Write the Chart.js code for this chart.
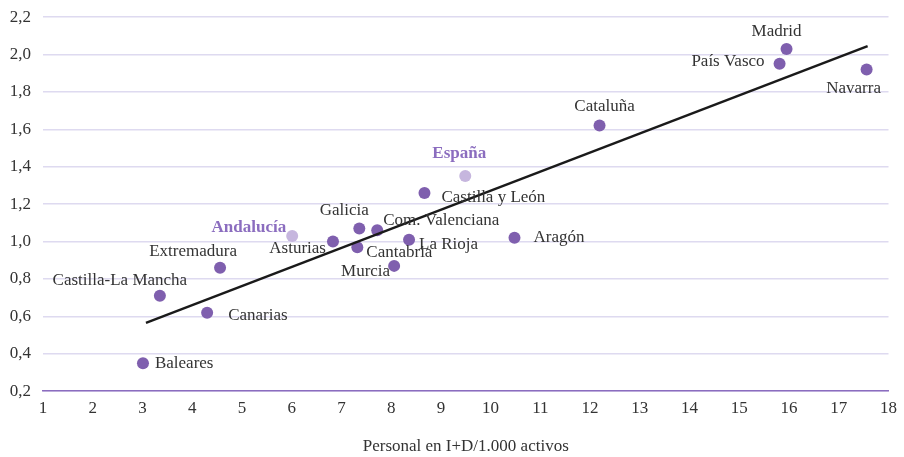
<!DOCTYPE html>
<html>
<head>
<meta charset="utf-8">
<script src="https://cdn.jsdelivr.net/npm/chart.js@4.4.1/dist/chart.umd.min.js"></script>
<style>
  html, body { margin: 0; padding: 0; background: #ffffff; }
  #wrap { width: 904px; height: 457px; }
</style>
</head>
<body>
<div id="wrap"><canvas id="chart"></canvas></div>
<script>
// regiones y valores
const regions = ['Baleares', 'Castilla-La Mancha', 'Canarias', 'Extremadura', 'Andalucía', 'Asturias',
    'Cantabria', 'Galicia', 'Com. Valenciana', 'Murcia', 'La Rioja', 'Castilla y León', 'España',
    'Aragón', 'Cataluña', 'País Vasco', 'Madrid', 'Navarra'];
const personalID = [3.01, 3.35, 4.30, 4.56, 6.01, 6.83, 7.32, 7.36, 7.72, 8.06, 8.36, 8.67, 9.49,
    10.48, 12.19, 15.81, 15.95, 17.56];
const yValues = [0.35, 0.71, 0.62, 0.86, 1.03, 1.00, 0.97, 1.07, 1.06, 0.87, 1.01, 1.26, 1.35,
    1.02, 1.62, 1.95, 2.03, 1.92];
const highlighted = ['Andalucía', 'España'];
const trendX = [3.07, 17.58];
const trendY = [0.565, 2.045];
const xTicks = [1, 18];
const yTicks = [0.2, 2.2];

// where each label sits relative to its point: [dx, dy, align]
const labelPos = {
    'Baleares': [12, 0, 'left'],
    'Castilla-La Mancha': [-40, -15, 'center'],
    'Canarias': [21, 3, 'left'],
    'Extremadura': [-27, -16, 'center'],
    'Andalucía': [-6, -8, 'right'],
    'Asturias': [-7, 7, 'right'],
    'Cantabria': [9, 5, 'left'],
    'Galicia': [-15, -18, 'center'],
    'Com. Valenciana': [6, -10, 'left'],
    'Murcia': [-4, 6, 'right'],
    'La Rioja': [10, 5, 'left'],
    'Castilla y León': [17, 5, 'left'],
    'España': [-6, -22, 'center'],
    'Aragón': [19, 0, 'left'],
    'Cataluña': [5, -19, 'center'],
    'País Vasco': [-15, -2, 'right'],
    'Madrid': [-10, -17, 'center'],
    'Navarra': [-13, 19, 'center']
};

const FONT = "'Liberation Serif', 'DejaVu Serif', serif";
const PURPLE = '#7f5fae';
const LIGHT = '#c6b6de';
const HL_TEXT = '#8b6dbf';

const points = regions.map((r, i) => ({ x: personalID[i], y: yValues[i], label: r }));

const labelPlugin = {
    id: 'pointLabels',
    afterDatasetsDraw(chart) {
        const ctx = chart.ctx;
        const meta = chart.getDatasetMeta(0);
        ctx.save();
        ctx.textBaseline = 'middle';
        meta.data.forEach((el, i) => {
            const name = regions[i];
            const p = labelPos[name];
            const hl = highlighted.includes(name);
            ctx.font = (hl ? 'bold ' : '') + '17px ' + FONT;
            ctx.fillStyle = hl ? HL_TEXT : '#333333';
            ctx.textAlign = p[2];
            ctx.fillText(name, el.x + p[0], el.y + p[1]);
        });
        ctx.restore();
    }
};

new Chart(document.getElementById('chart'), {
    type: 'scatter',
    data: {
        datasets: [{
            data: points,
            pointRadius: 6,
            pointHoverRadius: 6,
            pointBorderWidth: 0,
            pointBackgroundColor: regions.map(r => highlighted.includes(r) ? LIGHT : PURPLE),
            order: 2
        }, {
            type: 'line',
            data: trendX.map((x, i) => ({ x: x, y: trendY[i] })),
            borderColor: '#1a1a1a',
            borderWidth: 2.5,
            pointRadius: 0,
            fill: false,
            order: 1
        }]
    },
    options: {
        responsive: true,
        maintainAspectRatio: false,
        animation: false,
        layout: { padding: { top: 0, right: 13, left: 0, bottom: 0 } },
        plugins: {
            legend: { display: false },
            tooltip: { enabled: false }
        },
        scales: {
            x: {
                type: 'linear',
                min: xTicks[0],
                max: xTicks[1],
                ticks: {
                    stepSize: 1,
                    color: '#333333',
                    font: { family: FONT, size: 17 },
                    padding: 7,
                    maxRotation: 0
                },
                grid: { display: false, drawTicks: false },
                border: { display: true, color: '#8b6dbf', width: 1.5 },
                title: {
                    display: true,
                    text: 'Personal en I+D/1.000 activos',
                    color: '#333333',
                    font: { family: FONT, size: 17 },
                    padding: { top: 11, bottom: 0 }
                }
            },
            y: {
                min: yTicks[0],
                max: yTicks[1],
                afterFit: scale => { scale.width = 43; },
                ticks: {
                    stepSize: 0.2,
                    color: '#333333',
                    font: { family: FONT, size: 17, lineHeight: 0.6 },
                    padding: 12,
                    callback: v => v.toFixed(1).replace('.', ',')
                },
                grid: { color: '#dedaf0', lineWidth: 1.5, drawTicks: false },
                border: { display: false }
            }
        }
    },
    plugins: [labelPlugin]
});
</script>
</body>
</html>
